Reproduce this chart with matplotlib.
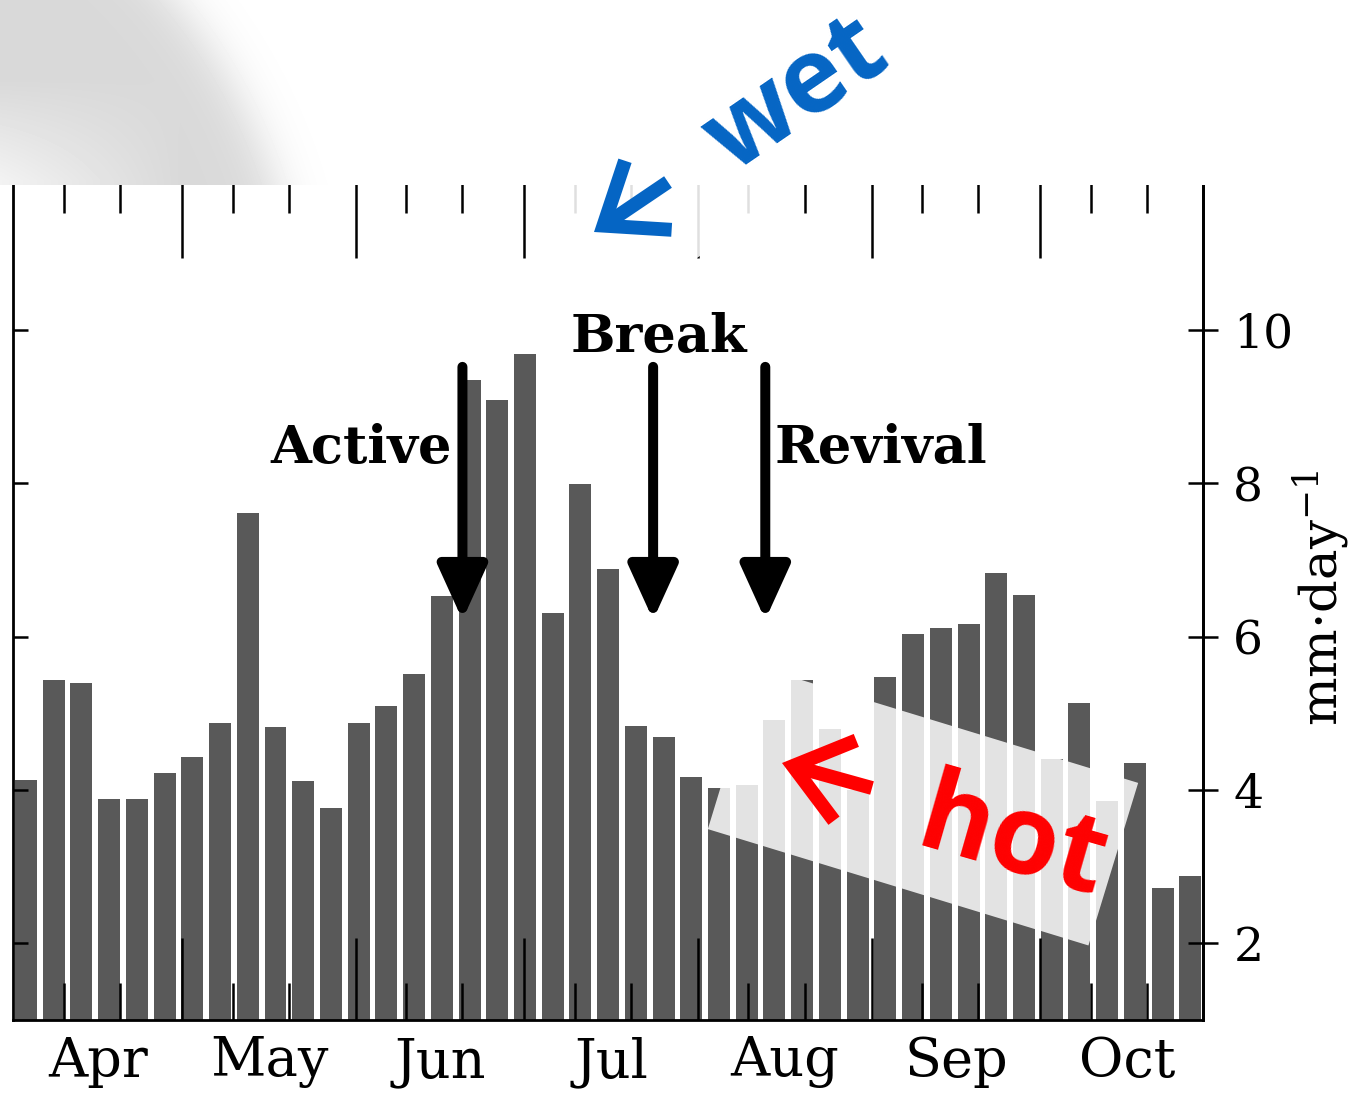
import numpy as np
import matplotlib
matplotlib.use("Agg")
import matplotlib.pyplot as plt
from matplotlib.patches import Rectangle, FancyArrowPatch
from matplotlib.transforms import IdentityTransform

# pentad mean rainfall, Apr-Oct (mm/day)
rain = [4.13, 5.43, 5.40, 3.88, 3.88, 4.22, 4.43, 4.87, 7.61, 4.82,
        4.12, 3.77, 4.88, 5.10, 5.52, 6.53, 9.35, 9.09, 9.69, 6.31,
        7.99, 6.88, 4.83, 4.69, 4.17, 4.02, 4.06, 4.91, 5.43, 4.80,
        4.00, 5.48, 6.03, 6.12, 6.17, 6.83, 6.55, 4.41, 5.13, 3.86,
        4.35, 2.72, 2.88]
months = ["Apr", "May", "Jun", "Jul", "Aug", "Sep", "Oct"]
month_days = [30, 31, 30, 31, 31, 30, 31]
y_ticks = [2, 4, 6, 8, 10]
phases = ["Active", "Break", "Revival"]
phase_days = [80.0, 114.0, 134.0]

W, H = 1349, 1095
fig = plt.figure(figsize=(W / 100, H / 100), dpi=100)
plt.rcParams["mathtext.fontset"] = "dejavuserif"
serif = "DejaVu Serif"
sticker_font = ["Open Sans", "DejaVu Sans"]

ax = fig.add_axes([12.5 / W, 75 / H, (1203 - 12.5) / W, (1020 - 176) / H])

# bars sit on the day axis (day 0 = 1 Apr)
x = 2.18 + 4.943 * np.arange(len(rain))
ax.bar(x, rain, width=3.92, color="#595959", linewidth=0)

ax.set_xlim(-0.23, 212.05)
ax.set_ylim(1.0, 12.01)

starts = np.concatenate([[0], np.cumsum(month_days)])
ax.set_xticks(starts[1:-1])
ax.set_xticks(np.concatenate([starts[:-1] + 9, starts[:-1] + 19]), minor=True)
ax.tick_params(axis="x", which="major", direction="in", length=59, width=1.8,
               top=True, bottom=True, labelbottom=False)
ax.tick_params(axis="x", which="minor", direction="in", length=26.6, width=1.8,
               top=True, bottom=True)
for s, n, name in zip(starts[:-1], month_days, months):
    ax.text(s + n / 2, -0.05, name, transform=ax.get_xaxis_transform(),
            ha="center", va="center", fontsize=39, family=serif)

ax.set_yticks(y_ticks)
ax.tick_params(axis="y", direction="in", length=11, width=1.8,
               left=True, right=False, labelleft=False)
ax.spines["top"].set_visible(False)
for side in ["left", "right", "bottom"]:
    ax.spines[side].set_linewidth(2)

ax2 = ax.twinx()
ax2.set_ylim(ax.get_ylim())
ax2.set_yticks(y_ticks)
ax2.tick_params(axis="y", direction="inout", length=21.6, width=1.8, pad=11,
                labelsize=34)
for lab in ax2.get_yticklabels():
    lab.set_family(serif)
for side in ["top", "left", "bottom"]:
    ax2.spines[side].set_visible(False)
ax2.spines["right"].set_linewidth(2)
ax2.set_ylabel("mm·day$^{-1}$", fontsize=37, family=serif)
ax2.yaxis.set_label_coords((1290 - 12.5) / (1203 - 12.5), 0.5)

# phase arrows and labels
for d in phase_days:
    ax.annotate("", xy=(d, 6.22), xytext=(d, 9.52),
                arrowprops=dict(arrowstyle="-|>,head_length=1.1,head_width=0.5",
                                mutation_scale=30, lw=7.2, color="black",
                                shrinkA=0, shrinkB=0, capstyle="round",
                                joinstyle="round"))
ax.text(phase_days[0] - 1.9, 8.26, phases[0], ha="right", va="baseline",
        fontsize=38, fontweight="bold", family=serif)
ax.text(phase_days[1] + 1.0, 9.71, phases[1], ha="center", va="baseline",
        fontsize=38, fontweight="bold", family=serif)
ax.text(phase_days[2] + 1.7, 8.26, phases[2], ha="left", va="baseline",
        fontsize=38, fontweight="bold", family=serif)

# faded photo corner above the chart
top_h = 185
ax_img = fig.add_axes([0, 1 - top_h / H, 1, top_h / H], zorder=10)
yy, xx = np.mgrid[0:top_h, 0:W]
r = np.hypot(xx + 250, yy - 350)
depth = 550 - r
inside = 0.85 + 0.1 * np.clip((yy - 80) / 100, 0, 1) * np.clip((180 - xx) / 180, 0, 1)
edge = 1 / (1 + np.exp(-depth / 14))
img = inside * edge + 1.0 * (1 - edge)
ax_img.imshow(img, cmap="gray", vmin=0, vmax=1, aspect="auto",
              interpolation="bilinear")
ax_img.axis("off")


def sticker(word, color, angle, word_at, tail, tip, size):
    # word_at / tail / tip in image pixels (origin top-left)
    fig.text(word_at[0] / W, 1 - word_at[1] / H, word, rotation=angle,
             rotation_mode="anchor", ha="left", va="baseline", color=color,
             fontsize=size, fontweight="bold", family=sticker_font, zorder=12)
    fig.add_artist(FancyArrowPatch((tail[0], H - tail[1]), (tip[0], H - tip[1]),
                                   transform=IdentityTransform(),
                                   arrowstyle="->,head_length=3.9,head_width=3.0",
                                   mutation_scale=10, lw=10, color=color,
                                   shrinkA=0, shrinkB=0, joinstyle="miter",
                                   capstyle="butt", zorder=12))


# "wet" sticker
fig.add_artist(Rectangle((742 - 200, H - 130 - 80), 400, 160, angle=34.5,
                         rotation_point="center", transform=IdentityTransform(),
                         facecolor="white", alpha=0.88, edgecolor="none",
                         zorder=11))
sticker("wet", "#0565C4", 34.5, (731, 174), (668, 182), (594, 232), 75)

# "hot" sticker
fig.add_artist(Rectangle((923 - 199, H - 806 - 85), 398, 170, angle=-17,
                         rotation_point="center", transform=IdentityTransform(),
                         facecolor="white", alpha=0.84, edgecolor="none",
                         zorder=11))
sticker("hot", "red", -16, (913, 845), (872, 788), (782, 763), 80)

fig.savefig("out.png", dpi=100)
